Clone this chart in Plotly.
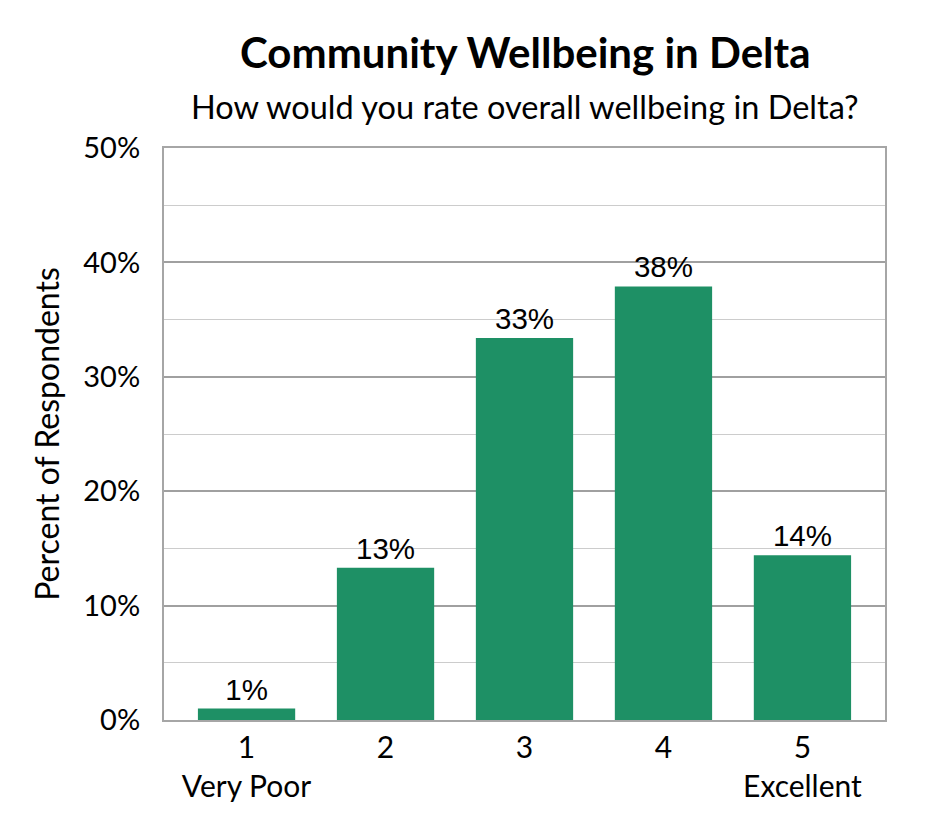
import plotly.graph_objects as go

categories = ["1", "2", "3", "4", "5"]
tick_labels = ["1<br>Very Poor", "2", "3", "4", "5<br>Excellent"]
values = [1.0, 13.3, 33.4, 37.9, 14.4]
value_labels = ["1%", "13%", "33%", "38%", "14%"]

title = "Community Wellbeing in Delta"
subtitle = "How would you rate overall wellbeing in Delta?"
y_title = "Percent of Respondents"

fig = go.Figure()
fig.add_trace(go.Bar(
    x=categories,
    y=values,
    text=value_labels,
    textposition="outside",
    textfont=dict(family="Liberation Sans", size=29.5, color="black"),
    marker=dict(color="#1e9065", line=dict(width=0)),
    cliponaxis=False,
    hoverinfo="skip",
))

fig.update_layout(
    width=937, height=832,
    margin=dict(l=156, r=60, t=140, b=120),
    paper_bgcolor="white", plot_bgcolor="white",
    bargap=0.3,
    showlegend=False,
    font=dict(family="Lato", color="black"),
    annotations=[
        dict(text="<b>" + title + "</b>", xref="paper", yref="paper", x=0.5, y=1.168,
             xanchor="center", yanchor="middle", showarrow=False,
             font=dict(family="Lato", size=42, color="black")),
        dict(text=subtitle, xref="paper", yref="paper", x=0.5, y=1.0717,
             xanchor="center", yanchor="middle", showarrow=False,
             font=dict(family="Lato", size=32.5, color="black")),
    ],
)

fig.update_xaxes(
    type="category",
    categoryorder="array", categoryarray=categories,
    tickvals=categories, ticktext=tick_labels,
    range=[-0.594, 4.594],
    showline=True, mirror=True, linecolor="#a6a6a6", linewidth=2,
    showgrid=False, ticks="",
    tickfont=dict(family="Lato", size=30, color="black"),
    ticklabelstandoff=0,
)

fig.update_yaxes(
    range=[0, 50], dtick=10, tick0=0, ticksuffix="%",
    showline=True, mirror=True, linecolor="#a6a6a6", linewidth=2,
    showgrid=True, gridcolor="#a0a0a0", gridwidth=2,
    zeroline=False, ticks="",
    tickfont=dict(family="Lato", size=29, color="black"),
    ticklabelstandoff=16,
    minor=dict(dtick=5, tick0=0, showgrid=True, gridcolor="#cccccc", gridwidth=1.3),
    title=dict(text=y_title, font=dict(family="Lato", size=32, color="black"), standoff=14),
)

fig.write_html("out.html")
